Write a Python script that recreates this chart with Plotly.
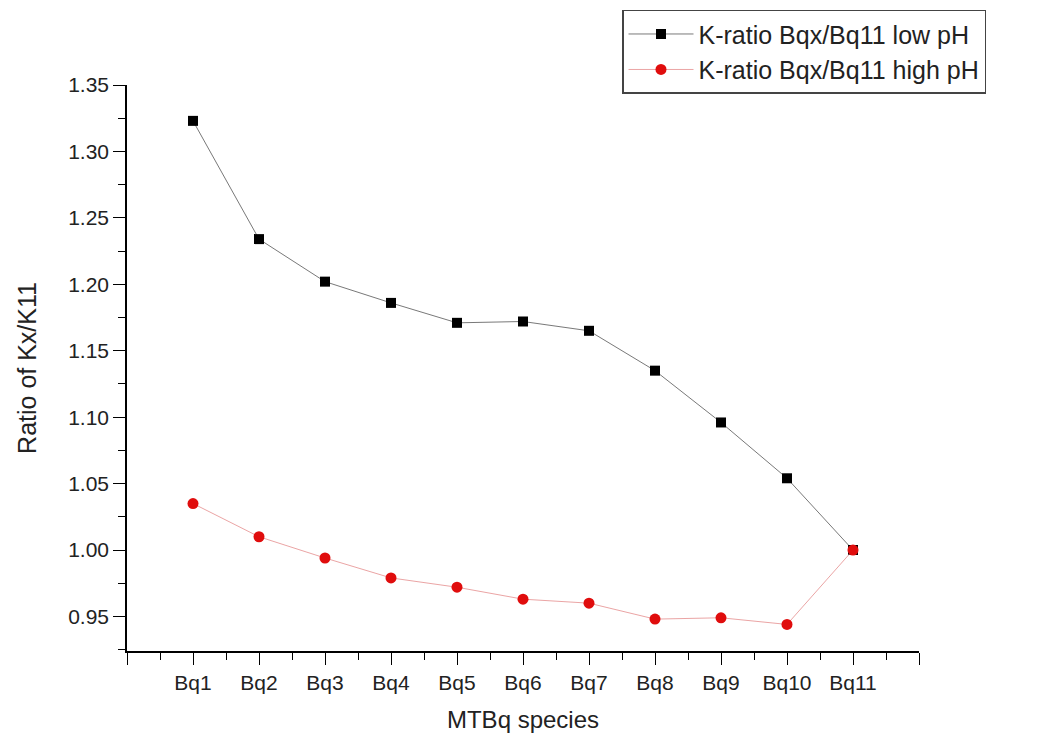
import plotly.graph_objs as go

species = ['Bq1', 'Bq2', 'Bq3', 'Bq4', 'Bq5', 'Bq6', 'Bq7', 'Bq8', 'Bq9', 'Bq10', 'Bq11']
positions = list(range(1, 12))

low_ph = [1.323, 1.234, 1.202, 1.186, 1.171, 1.172, 1.165, 1.135, 1.096, 1.054, 1.000]
high_ph = [1.035, 1.010, 0.994, 0.979, 0.972, 0.963, 0.960, 0.948, 0.949, 0.944, 1.000]

font = 'Liberation Sans, Arial, sans-serif'

traces = [
    go.Scatter(x=positions, y=low_ph, mode='lines+markers', name='K-ratio Bqx/Bq11 low pH',
               line=dict(color='#555555', width=0.8),
               marker=dict(symbol='square', size=10, color='black')),
    go.Scatter(x=positions, y=high_ph, mode='lines+markers', name='K-ratio Bqx/Bq11 high pH',
               line=dict(color='#e89a9a', width=0.9),
               marker=dict(symbol='circle', size=11, color='#e00d0d')),
]

# page body adds 8px margin, so the figure is a bit smaller and shifted
layout = go.Layout(
    width=1055, height=726,
    margin=dict(l=119, r=144, t=77, b=83, autoexpand=False),
    plot_bgcolor='white', paper_bgcolor='white',
    font=dict(family=font, size=21, color='#222222'),
    showlegend=True,
    legend=dict(x=0.625, y=1.133, xanchor='left', yanchor='top',
                bordercolor='#444444', borderwidth=1.5, bgcolor='white',
                font=dict(size=25, color='#222222'), tracegroupgap=0,
                itemwidth=65),
    xaxis=dict(
        range=[0, 12], tickmode='array', tickvals=list(range(0, 13)),
        ticktext=[''] + species + [''],
        showline=True, linecolor='black', linewidth=1.5,
        ticks='outside', ticklen=12, tickwidth=1.2, tickcolor='black',
        minor=dict(ticks='outside', tickmode='linear', tick0=0.5, dtick=1, ticklen=7, tickcolor='black', tickwidth=1.2),
        showgrid=False, zeroline=False,
        title=dict(text='MTBq species', font=dict(size=24), standoff=18),
    ),
    yaxis=dict(
        range=[0.924, 1.35], tickmode='linear', tick0=0.95, dtick=0.05, tickformat='.2f',
        showline=True, linecolor='black', linewidth=1.5,
        ticks='outside', ticklen=12, tickwidth=1.2, tickcolor='black',
        minor=dict(ticks='outside', tickmode='linear', tick0=0.975, dtick=0.05, ticklen=7, tickcolor='black', tickwidth=1.2),
        showgrid=False, zeroline=False,
        title=dict(text='Ratio of Kx/K11', font=dict(size=25), standoff=24),
    ),
)

fig = go.Figure(data=traces, layout=layout)
fig.write_html('out.html')
